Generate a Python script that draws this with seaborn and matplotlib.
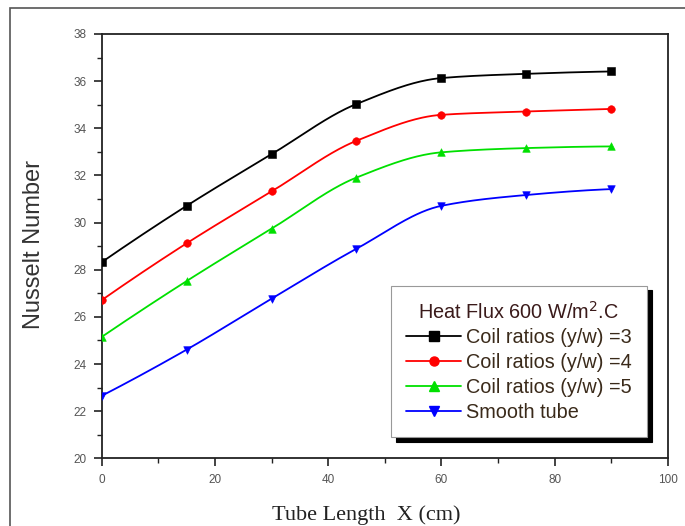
import numpy as np
import pandas as pd
import matplotlib
matplotlib.use("Agg")
import matplotlib.pyplot as plt
import seaborn as sns
from matplotlib.lines import Line2D
from matplotlib.patches import Rectangle
from matplotlib.ticker import MultipleLocator

# ---- data ----
tube_length = [0, 15, 30, 45, 60, 75, 90]
coil_3 = [28.32, 30.71, 32.90, 35.03, 36.13, 36.31, 36.41]
coil_4 = [26.71, 29.12, 31.32, 33.47, 34.57, 34.71, 34.82]
coil_5 = [25.15, 27.52, 29.74, 31.91, 32.98, 33.16, 33.23]
smooth = [22.65, 24.61, 26.77, 28.89, 30.71, 31.17, 31.42]

series_names = ["Coil ratios (y/w) =3", "Coil ratios (y/w) =4",
                "Coil ratios (y/w) =5", "Smooth tube"]
series_values = [coil_3, coil_4, coil_5, smooth]
colors = ["#000000", "#FF0000", "#00E000", "#0000FF"]
markers = ["s", "o", "^", "v"]
legend_title = "Heat Flux 600 W/m$^2$.C"


def pchip(x, y, xs):
    """Monotone cubic (Fritsch-Carlson) curve through the data points."""
    x = np.asarray(x, float)
    y = np.asarray(y, float)
    h = np.diff(x)
    d = np.diff(y) / h
    m = np.zeros_like(y)
    for k in range(1, len(x) - 1):
        if d[k - 1] * d[k] > 0:
            w1 = 2 * h[k] + h[k - 1]
            w2 = h[k] + 2 * h[k - 1]
            m[k] = (w1 + w2) / (w1 / d[k - 1] + w2 / d[k])
    m[0] = ((2 * h[0] + h[1]) * d[0] - h[0] * d[1]) / (h[0] + h[1])
    if np.sign(m[0]) != np.sign(d[0]):
        m[0] = 0
    m[-1] = ((2 * h[-1] + h[-2]) * d[-1] - h[-1] * d[-2]) / (h[-1] + h[-2])
    if np.sign(m[-1]) != np.sign(d[-1]):
        m[-1] = 0
    idx = np.clip(np.searchsorted(x, xs) - 1, 0, len(x) - 2)
    t = (xs - x[idx]) / h[idx]
    h00 = 2 * t**3 - 3 * t**2 + 1
    h10 = t**3 - 2 * t**2 + t
    h01 = -2 * t**3 + 3 * t**2
    h11 = t**3 - t**2
    return (h00 * y[idx] + h10 * h[idx] * m[idx]
            + h01 * y[idx + 1] + h11 * h[idx] * m[idx + 1])


sns.set_theme(style="white")
plt.rcParams["font.family"] = ["Liberation Sans", "DejaVu Sans"]

fig = plt.figure(figsize=(6.85, 5.26), dpi=100)
ax = fig.add_axes([0.1485, 0.1287, 0.8265, 0.8067])

points = pd.DataFrame({
    "x": np.tile(tube_length, len(series_names)),
    "y": np.concatenate(series_values),
    "series": np.repeat(series_names, len(tube_length)),
})

xs = np.linspace(min(tube_length), max(tube_length), 300)
for name, vals, c, mk in zip(series_names, series_values, colors, markers):
    curve = pd.DataFrame({"x": xs, "y": pchip(tube_length, vals, xs)})
    sns.lineplot(data=curve, x="x", y="y", color=c, lw=1.3, ax=ax,
                 legend=False)
    sub = points[points["series"] == name]
    sns.scatterplot(data=sub, x="x", y="y", color=c, marker=mk, s=30,
                    edgecolor=c, linewidth=0.4, ax=ax, legend=False,
                    zorder=3)

ax.set_xlim(0, 100)
ax.set_ylim(20, 38)
ax.xaxis.set_major_locator(MultipleLocator(20))
ax.xaxis.set_minor_locator(MultipleLocator(10))
ax.yaxis.set_major_locator(MultipleLocator(2))
ax.yaxis.set_minor_locator(MultipleLocator(1))
ax.tick_params(which="both", direction="out", bottom=True, left=True,
               top=False, right=False, color="#222222")
ax.tick_params(which="major", length=6, width=1.2, labelsize=8.5,
               labelcolor="#555555", pad=5)
ax.tick_params(which="minor", length=3.5, width=1.0)
for sp in ax.spines.values():
    sp.set_color("#222222")
    sp.set_linewidth(1.3)

ax.set_ylabel("Nusselt Number", fontsize=17, color="#333333")
ax.yaxis.set_label_coords(-0.100, 0.503)
ax.set_xlabel("Tube Length  X (cm)", fontsize=16, color="#222222",
              family=["Liberation Serif", "DejaVu Serif"])
ax.xaxis.set_label_coords(0.467, -0.1455)
ax.xaxis.label.set_va("baseline")

handles = [Line2D([0], [0], color=c, marker=mk, lw=1.3, markersize=6.5)
           for c, mk in zip(colors, markers)]
leg = ax.legend(handles, series_names, title=legend_title,
                loc="lower right", bbox_to_anchor=(0.963, 0.05),
                borderaxespad=0,
                fontsize=14.3, title_fontsize=14.3, handlelength=2.8,
                handletextpad=0.25, labelspacing=0.3, borderpad=0.75,
                frameon=True, fancybox=False, alignment="center",
                shadow={"color": "black", "alpha": 1, "ox": 4, "oy": -3.5})
leg.get_frame().set_edgecolor("#999999")
leg.get_frame().set_linewidth(0.8)
leg.get_title().set_color("#3a1a1a")
for t in leg.get_texts():
    t.set_color("#3a2a1a")

fig.patches.append(Rectangle((10 / 685, -0.1), 1.2, 1.1 - 8 / 526,
                             transform=fig.transFigure, fill=False,
                             edgecolor="#555555", lw=1.2, zorder=-1))

fig.savefig("out.png", dpi=100)
